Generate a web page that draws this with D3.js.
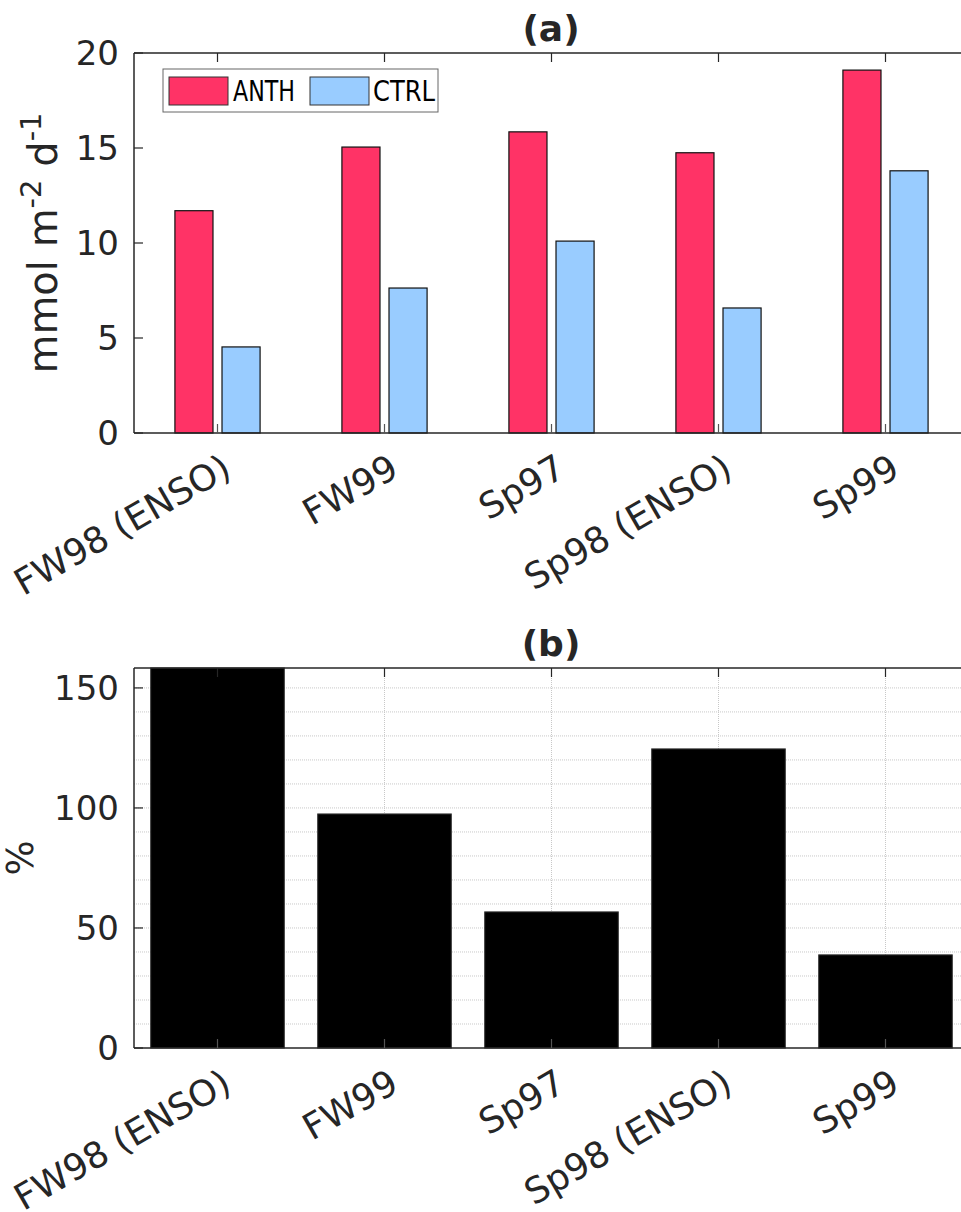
<!DOCTYPE html>
<html>
<head>
<meta charset="utf-8">
<script src="https://cdn.jsdelivr.net/npm/d3@7"></script>
<style>
  html, body { margin: 0; padding: 0; background: #fff; }
  svg { display: block; }
  text { font-family: "DejaVu Sans", sans-serif; fill: #262626; }
</style>
</head>
<body>
<svg id="chart" width="961" height="1212"></svg>
<script>
// ---- data ----
const categories = ["FW98 (ENSO)", "FW99", "Sp97", "Sp98 (ENSO)", "Sp99"];
const seriesNames = ["ANTH", "CTRL"];
const anth = [11.7, 15.05, 15.85, 14.75, 19.1];
const ctrl = [4.53, 7.63, 10.1, 6.58, 13.8];
const pct = [158.3, 97.5, 56.7, 124.6, 38.8];
const ticksA = [0, 5, 10, 15, 20];
const ticksB = [0, 50, 100, 150];
const minorB = [10, 20, 30, 40, 60, 70, 80, 90, 110, 120, 130, 140];
const colors = ["#FF3366", "#99CCFF"];

const svg = d3.select("#chart");
const axisColor = "#262626";
const x = d3.scaleLinear().domain([0.5, 5.5]).range([134, 969]);

function xLabels(g, y0) {
  categories.forEach((c, i) => {
    const px = x(i + 1) + 16, py = y0 + 42;
    g.append("text")
      .attr("transform", `translate(${px},${py}) rotate(-30)`)
      .attr("text-anchor", "end")
      .attr("font-size", 36)
      .text(c);
  });
}

function frame(g, y, top, bottom, ticks) {
  g.append("line").attr("x1", x(0.5)).attr("x2", x(5.5)).attr("y1", top).attr("y2", top)
    .attr("stroke", axisColor).attr("stroke-width", 1.5);
  g.append("line").attr("x1", x(0.5)).attr("x2", x(5.5)).attr("y1", bottom).attr("y2", bottom)
    .attr("stroke", axisColor).attr("stroke-width", 1.5);
  g.append("line").attr("x1", x(0.5)).attr("x2", x(0.5)).attr("y1", top).attr("y2", bottom)
    .attr("stroke", axisColor).attr("stroke-width", 1.5);
  ticks.forEach(t => {
    g.append("line").attr("x1", x(0.5)).attr("x2", x(0.5) + 9)
      .attr("y1", y(t)).attr("y2", y(t)).attr("stroke", axisColor).attr("stroke-width", 1.2);
    g.append("text").attr("x", 119).attr("y", y(t)).attr("text-anchor", "end")
      .attr("dominant-baseline", "central").attr("font-size", 34).text(t);
  });
  categories.forEach((c, i) => {
    const px = x(i + 1);
    g.append("line").attr("x1", px).attr("x2", px).attr("y1", top).attr("y2", top + 9)
      .attr("stroke", axisColor).attr("stroke-width", 1.2);
    g.append("line").attr("x1", px).attr("x2", px).attr("y1", bottom).attr("y2", bottom - 9)
      .attr("stroke", "#555").attr("stroke-width", 1.2);
  });
}

// ---------- Panel (a) ----------
const gA = svg.append("g");
const topA = 53, botA = 433;
const yA = d3.scaleLinear().domain([0, 20]).range([botA, topA]);
const offs = [-0.141, 0.141];
const bwA = 0.228;
[anth, ctrl].forEach((vals, s) => {
  gA.selectAll(null).data(vals).enter().append("rect")
    .attr("x", (d, i) => x(i + 1 + offs[s] - bwA / 2))
    .attr("width", x(1 + bwA) - x(1))
    .attr("y", d => yA(d))
    .attr("height", d => yA(0) - yA(d))
    .attr("fill", colors[s])
    .attr("stroke", "#111").attr("stroke-width", 1.2);
});
frame(gA, yA, topA, botA, ticksA);
xLabels(gA, botA);

gA.append("text").attr("x", 551).attr("y", 41).attr("text-anchor", "middle")
  .attr("font-size", 36).attr("font-weight", "bold").text("(a)");

const yl = gA.append("text").attr("transform", `translate(57,${(topA + botA) / 2}) rotate(-90)`)
  .attr("text-anchor", "middle").attr("font-size", 40);
yl.append("tspan").text("mmol m");
yl.append("tspan").attr("font-size", 29).attr("dy", -16).text("-2");
yl.append("tspan").attr("dy", 16).text(" d");
yl.append("tspan").attr("font-size", 29).attr("dy", -16).text("-1");

// legend
const lg = gA.append("g");
lg.append("rect").attr("x", 163).attr("y", 69).attr("width", 275).attr("height", 43)
  .attr("fill", "#fff").attr("stroke", "#666").attr("stroke-width", 1);
const legX = [169, 310], legTX = [233, 373];
seriesNames.forEach((n, s) => {
  lg.append("rect").attr("x", legX[s]).attr("y", 77).attr("width", 59).attr("height", 28)
    .attr("fill", colors[s]).attr("stroke", "#333").attr("stroke-width", 1);
  lg.append("text").attr("x", legTX[s]).attr("y", 91).attr("dominant-baseline", "central")
    .attr("font-size", 29).attr("textLength", 62).attr("lengthAdjust", "spacingAndGlyphs")
    .style("fill", "#000").text(n);
});

// ---------- Panel (b) ----------
const gB = svg.append("g");
const topB = 668, botB = 1048;
const yB = d3.scaleLinear().domain([0, 158.3]).range([botB, topB]);

const grid = gB.append("g");
minorB.concat([50, 100, 150]).forEach(t => {
  grid.append("line").attr("x1", x(0.5)).attr("x2", x(5.5)).attr("y1", yB(t)).attr("y2", yB(t))
    .attr("stroke", "#c8c8c8").attr("stroke-width", 1).attr("stroke-dasharray", "1,1");
});
categories.forEach((c, i) => {
  grid.append("line").attr("x1", x(i + 1)).attr("x2", x(i + 1)).attr("y1", topB).attr("y2", botB)
    .attr("stroke", "#c8c8c8").attr("stroke-width", 1).attr("stroke-dasharray", "1,1");
});

gB.selectAll(null).data(pct).enter().append("rect")
  .attr("x", (d, i) => x(i + 1 - 0.4))
  .attr("width", x(1.8) - x(1))
  .attr("y", d => yB(Math.min(d, 158.3)))
  .attr("height", d => yB(0) - yB(Math.min(d, 158.3)))
  .attr("fill", "#000").attr("stroke", "#333").attr("stroke-width", 1);

frame(gB, yB, topB, botB, ticksB);
xLabels(gB, botB);

gB.append("text").attr("x", 551).attr("y", 656).attr("text-anchor", "middle")
  .attr("font-size", 36).attr("font-weight", "bold").text("(b)");

gB.append("text").attr("transform", `translate(33,${(topB + botB) / 2}) rotate(-90)`)
  .attr("text-anchor", "middle").attr("font-size", 37).text("%");
</script>
</body>
</html>
